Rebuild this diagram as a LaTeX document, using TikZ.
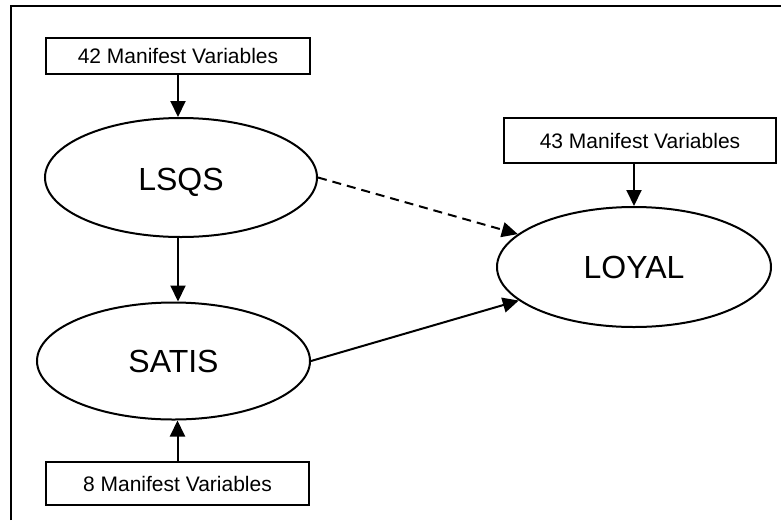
\documentclass[tikz,border=0pt]{standalone}
\usepackage{fontspec}
\setmainfont{Liberation Sans}
\usetikzlibrary{shapes.geometric,arrows.meta}
\begin{document}
\begin{tikzpicture}[x=1pt,y=-1pt,
  mvbox/.style={draw,line width=2pt,rectangle,inner sep=0pt,font=\fontsize{21}{24}\selectfont},
  latent/.style={draw,line width=2pt,ellipse,inner sep=0pt,font=\fontsize{32}{36}\selectfont},
  link/.style={line width=2pt,-{Triangle[length=16pt,width=15pt]}},
  frameline/.style={line width=2pt}]
\useasboundingbox (0,0) rectangle (781,520);
\draw[frameline] (11,520) -- (11,6) -- (781,6);
\node[mvbox,minimum width=264pt,minimum height=36pt] (mv42) at (178,56) {42 Manifest Variables};
\node[mvbox,minimum width=272pt,minimum height=45pt] (mv43) at (640,140.5) {43 Manifest Variables};
\node[mvbox,minimum width=263pt,minimum height=43pt] (mv8) at (177.5,483.5) {8 Manifest Variables};
\node[latent,minimum width=272pt,minimum height=119pt] (LSQS) at (181,177.5) {\raisebox{-5pt}[\height][\depth]{LSQS}};
\node[latent,minimum width=273pt,minimum height=117pt] (SATIS) at (173.5,361) {SATIS};
\node[latent,minimum width=274pt,minimum height=120pt] (LOYAL) at (634,267) {LOYAL};
\draw[link] (mv42.south) -- (mv42.south |- LSQS.north);
\draw[link] (LSQS.south -| mv42.south) -- (mv42.south |- SATIS.north);
\draw[link] (mv8.north) -- (mv8.north |- SATIS.south);
\draw[link] (LOYAL.north |- mv43.south) -- (LOYAL.north);
\draw[link,dash pattern=on 9pt off 6pt] (LSQS.east) -- (LOYAL);
\draw[link] (SATIS.east) -- (LOYAL);
\end{tikzpicture}
\end{document}
